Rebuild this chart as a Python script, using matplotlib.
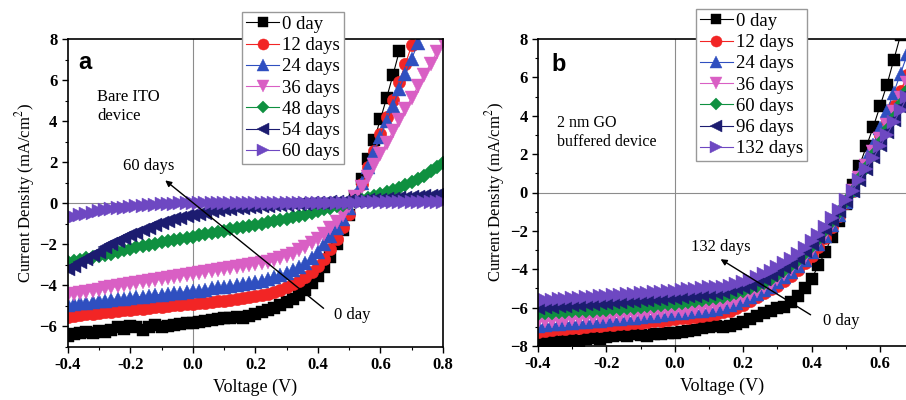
"""J-V curves of bare ITO and GO buffered devices over storage time."""

import matplotlib

matplotlib.use("Agg")
import matplotlib.pyplot as plt
from matplotlib.ticker import FormatStrFormatter, MultipleLocator

plt.rcParams["font.family"] = ["Liberation Serif", "DejaVu Serif"]
plt.rcParams["mathtext.fontset"] = "stix"

# voltage sweep (V), 0.02 V step
voltage = [
    -0.40, -0.38, -0.36, -0.34, -0.32, -0.30, -0.28, -0.26, -0.24, -0.22,
    -0.20, -0.18, -0.16, -0.14, -0.12, -0.10, -0.08, -0.06, -0.04, -0.02,
    0.00, 0.02, 0.04, 0.06, 0.08, 0.10, 0.12, 0.14, 0.16, 0.18,
    0.20, 0.22, 0.24, 0.26, 0.28, 0.30, 0.32, 0.34, 0.36, 0.38,
    0.40, 0.42, 0.44, 0.46, 0.48, 0.50, 0.52, 0.54, 0.56, 0.58,
    0.60, 0.62, 0.64, 0.66, 0.68, 0.70, 0.72, 0.74, 0.76, 0.78, 0.80,
]

# ---- panel a: bare ITO device (mA/cm^2) ----
labels_a = ["0 day", "12 days", "24 days", "36 days", "48 days", "54 days", "60 days"]

a_0 = [
    -6.45, -6.35, -6.30, -6.25, -6.30, -6.20, -6.25, -6.15, -6.05, -6.10,
    -6.00, -6.05, -6.15, -6.05, -5.95, -6.05, -6.00, -5.95, -5.90, -5.85,
    -5.85, -5.80, -5.75, -5.70, -5.65, -5.60, -5.60, -5.55, -5.60, -5.50,
    -5.40, -5.30, -5.20, -5.10, -4.95, -4.80, -4.65, -4.45, -4.20, -3.90,
    -3.55, -3.10, -2.60, -2.00, -1.30, -0.55, 0.30, 1.20, 2.15, 3.10,
    4.10, 5.15, 6.25, 7.40,
]
a_12 = [
    -5.55, -5.50, -5.45, -5.40, -5.40, -5.35, -5.30, -5.30, -5.25, -5.20,
    -5.20, -5.15, -5.15, -5.10, -5.05, -5.05, -5.00, -4.95, -4.95, -4.90,
    -4.90, -4.85, -4.85, -4.80, -4.75, -4.75, -4.70, -4.65, -4.60, -4.55,
    -4.50, -4.45, -4.40, -4.30, -4.20, -4.10, -3.95, -3.80, -3.60, -3.35,
    -3.05, -2.70, -2.25, -1.75, -1.15, -0.50, 0.20, 0.95, 1.75, 2.55,
    3.35, 4.20, 5.05, 5.90, 6.80, 7.70,
]
a_24 = [
    -4.95, -4.90, -4.85, -4.85, -4.80, -4.75, -4.75, -4.70, -4.65, -4.65,
    -4.60, -4.55, -4.55, -4.50, -4.45, -4.45, -4.40, -4.35, -4.35, -4.30,
    -4.25, -4.25, -4.20, -4.15, -4.10, -4.10, -4.05, -4.00, -3.95, -3.90,
    -3.85, -3.80, -3.70, -3.60, -3.50, -3.40, -3.25, -3.10, -2.90, -2.65,
    -2.35, -2.00, -1.60, -1.20, -0.75, -0.25, 0.35, 1.00, 1.75, 2.50,
    3.25, 4.00, 4.75, 5.55, 6.30, 7.05, 7.80,
]
a_36 = [
    -4.45, -4.40, -4.35, -4.30, -4.25, -4.20, -4.15, -4.10, -4.05, -4.00,
    -3.95, -3.90, -3.85, -3.80, -3.75, -3.70, -3.65, -3.60, -3.55, -3.50,
    -3.45, -3.40, -3.35, -3.30, -3.25, -3.20, -3.15, -3.10, -3.05, -3.00,
    -2.95, -2.90, -2.85, -2.75, -2.65, -2.55, -2.45, -2.30, -2.15, -1.95,
    -1.75, -1.50, -1.20, -0.90, -0.55, -0.15, 0.30, 0.80, 1.30, 1.85,
    2.40, 2.95, 3.50, 4.05, 4.60, 5.15, 5.70, 6.25, 6.80, 7.35, 7.90,
]
a_48 = [
    -2.85, -2.80, -2.75, -2.65, -2.60, -2.55, -2.50, -2.45, -2.35, -2.30,
    -2.25, -2.15, -2.10, -2.05, -2.00, -1.90, -1.85, -1.80, -1.75, -1.70,
    -1.65, -1.55, -1.50, -1.45, -1.40, -1.35, -1.25, -1.20, -1.15, -1.10,
    -1.05, -1.00, -0.90, -0.85, -0.80, -0.75, -0.65, -0.60, -0.55, -0.45,
    -0.40, -0.30, -0.25, -0.15, -0.10, 0.00, 0.10, 0.15, 0.25, 0.35,
    0.45, 0.55, 0.65, 0.75, 0.90, 1.05, 1.20, 1.35, 1.55, 1.75, 1.95,
]
a_54 = [
    -3.20, -3.05, -2.85, -2.70, -2.50, -2.35, -2.15, -2.00, -1.85, -1.70,
    -1.55, -1.45, -1.30, -1.20, -1.05, -0.95, -0.85, -0.75, -0.70, -0.60,
    -0.55, -0.50, -0.45, -0.40, -0.35, -0.30, -0.30, -0.25, -0.25, -0.20,
    -0.20, -0.15, -0.15, -0.10, -0.10, -0.10, -0.05, -0.05, -0.05, 0.00,
    0.00, 0.00, 0.05, 0.05, 0.05, 0.10, 0.10, 0.10, 0.15, 0.15,
    0.15, 0.20, 0.20, 0.25, 0.25, 0.30, 0.30, 0.35, 0.35, 0.40, 0.40,
]
a_60 = [
    -0.70, -0.65, -0.55, -0.50, -0.45, -0.40, -0.35, -0.30, -0.25, -0.25,
    -0.20, -0.15, -0.15, -0.10, -0.10, -0.05, -0.05, -0.05, 0.00, 0.00,
    0.00, 0.00, 0.00, 0.00, 0.00, 0.00, 0.00, 0.00, 0.00, 0.00,
    0.00, 0.00, 0.00, 0.00, 0.00, 0.00, 0.00, 0.00, 0.00, 0.00,
    0.00, 0.00, 0.00, 0.00, 0.00, 0.00, 0.00, 0.05, 0.05, 0.05,
    0.05, 0.05, 0.05, 0.05, 0.05, 0.05, 0.05, 0.05, 0.05, 0.05, 0.05,
]

# ---- panel b: 2 nm GO buffered device (mA/cm^2) ----
labels_b = ["0 day", "12 days", "24 days", "36 days", "60 days", "96 days", "132 days"]

b_0 = [
    -7.85, -7.80, -7.75, -7.80, -7.75, -7.70, -7.75, -7.65, -7.60, -7.65,
    -7.55, -7.50, -7.45, -7.50, -7.40, -7.45, -7.50, -7.40, -7.35, -7.30,
    -7.30, -7.25, -7.20, -7.15, -7.05, -7.00, -6.95, -7.00, -6.95, -6.85,
    -6.75, -6.60, -6.45, -6.30, -6.15, -6.00, -5.95, -5.70, -5.40, -5.00,
    -4.50, -3.80, -3.10, -2.30, -1.50, -0.60, 0.40, 1.40, 2.40, 3.40,
    4.50, 5.60, 6.90, 8.20,
]
b_12 = [
    -7.25, -7.20, -7.15, -7.10, -7.10, -7.05, -7.05, -7.00, -6.95, -6.95,
    -6.90, -6.90, -6.85, -6.85, -6.80, -6.80, -6.75, -6.70, -6.70, -6.65,
    -6.60, -6.55, -6.55, -6.50, -6.45, -6.40, -6.35, -6.25, -6.15, -6.00,
    -5.85, -5.65, -5.45, -5.25, -5.05, -4.85, -4.60, -4.35, -4.05, -3.70,
    -3.30, -2.85, -2.35, -1.80, -1.20, -0.55, 0.10, 0.80, 1.50, 2.25,
    3.00, 3.75, 4.50, 5.30, 6.10, 6.90,
]
b_24 = [
    -6.95, -6.90, -6.85, -6.85, -6.80, -6.80, -6.75, -6.75, -6.70, -6.70,
    -6.65, -6.60, -6.60, -6.55, -6.55, -6.50, -6.45, -6.45, -6.40, -6.35,
    -6.30, -6.30, -6.25, -6.20, -6.15, -6.10, -6.05, -5.95, -5.85, -5.75,
    -5.60, -5.45, -5.30, -5.10, -4.90, -4.65, -4.40, -4.15, -3.85, -3.50,
    -3.10, -2.70, -2.25, -1.70, -1.15, -0.50, 0.15, 0.90, 1.70, 2.50,
    3.35, 4.25, 5.20, 6.20, 7.20, 8.20,
]
b_36 = [
    -6.75, -6.70, -6.70, -6.65, -6.65, -6.60, -6.60, -6.55, -6.55, -6.50,
    -6.50, -6.45, -6.45, -6.40, -6.40, -6.35, -6.30, -6.30, -6.25, -6.20,
    -6.15, -6.15, -6.10, -6.05, -6.00, -5.95, -5.90, -5.80, -5.70, -5.60,
    -5.45, -5.30, -5.15, -4.95, -4.75, -4.50, -4.25, -4.00, -3.70, -3.35,
    -3.00, -2.60, -2.15, -1.65, -1.10, -0.50, 0.10, 0.75, 1.40, 2.10,
    2.80, 3.50, 4.20, 4.95, 5.70, 6.45,
]
b_60 = [
    -6.35, -6.30, -6.30, -6.25, -6.25, -6.20, -6.20, -6.15, -6.15, -6.10,
    -6.10, -6.05, -6.05, -6.00, -6.00, -5.95, -5.90, -5.90, -5.85, -5.80,
    -5.80, -5.75, -5.70, -5.65, -5.60, -5.55, -5.50, -5.45, -5.35, -5.25,
    -5.15, -5.00, -4.85, -4.70, -4.50, -4.30, -4.05, -3.80, -3.50, -3.15,
    -2.80, -2.40, -1.95, -1.50, -1.00, -0.45, 0.10, 0.70, 1.30, 1.95,
    2.60, 3.25, 3.90, 4.60, 5.30, 6.00,
]
b_96 = [
    -6.00, -5.95, -5.95, -5.90, -5.90, -5.85, -5.85, -5.80, -5.80, -5.75,
    -5.75, -5.70, -5.70, -5.65, -5.65, -5.60, -5.60, -5.55, -5.55, -5.50,
    -5.50, -5.45, -5.40, -5.40, -5.35, -5.30, -5.25, -5.20, -5.10, -5.00,
    -4.90, -4.80, -4.65, -4.50, -4.30, -4.10, -3.90, -3.65, -3.40, -3.05,
    -2.70, -2.30, -1.90, -1.45, -0.95, -0.45, 0.10, 0.65, 1.25, 1.85,
    2.50, 3.15, 3.80, 4.45, 5.15, 5.85,
]
b_132 = [
    -5.65, -5.60, -5.60, -5.55, -5.55, -5.50, -5.50, -5.45, -5.45, -5.40,
    -5.40, -5.35, -5.35, -5.30, -5.30, -5.25, -5.25, -5.20, -5.20, -5.15,
    -5.15, -5.10, -5.05, -5.05, -5.00, -4.95, -4.95, -4.90, -4.85, -4.75,
    -4.65, -4.55, -4.40, -4.25, -4.10, -3.90, -3.70, -3.45, -3.20, -2.90,
    -2.55, -2.20, -1.80, -1.35, -0.90, -0.40, 0.10, 0.65, 1.20, 1.80,
    2.40, 3.00, 3.65, 4.30, 5.00, 5.70,
]

series_a = [a_0, a_12, a_24, a_36, a_48, a_54, a_60]
series_b = [b_0, b_12, b_24, b_36, b_60, b_96, b_132]

colors = ["#000000", "#f22525", "#2f4fc0", "#d95fc4", "#0f9040", "#1c1c70", "#6e48c2"]
markers = ["s", "o", "^", "v", "D", "<", ">"]
sizes = [8, 9, 10, 10, 7, 10, 10]
legend_sizes = [7, 8, 9, 9, 6.5, 9, 9]


def draw_panel(ax, series, labels, xlim, ylim, legend_anchor, fig):
    ax.axhline(0, color="#8c8c8c", lw=0.8, zorder=0)
    ax.axvline(0, color="#8c8c8c", lw=0.8, zorder=0)
    for values, label, color, marker, size in zip(series, labels, colors, markers, sizes):
        ax.plot(voltage[:len(values)], values, color=color, marker=marker, ms=size,
                lw=0.8, mec=color, mew=0.3, label=label)
    ax.set_xlim(*xlim)
    ax.set_ylim(*ylim)
    ax.xaxis.set_major_locator(MultipleLocator(0.2))
    ax.xaxis.set_minor_locator(MultipleLocator(0.1))
    ax.yaxis.set_major_locator(MultipleLocator(2))
    ax.yaxis.set_minor_locator(MultipleLocator(1))
    ax.xaxis.set_major_formatter(FormatStrFormatter("%.1f"))
    ax.tick_params(which="major", direction="out", length=4, width=1, labelsize=12)
    ax.tick_params(which="minor", direction="out", length=2.5, width=0.8)
    for lab in ax.get_xticklabels() + ax.get_yticklabels():
        lab.set_fontweight("bold")
    for spine in ax.spines.values():
        spine.set_linewidth(1.2)
    ax.set_xlabel("Voltage (V)", fontsize=13, labelpad=4)
    ax.set_ylabel("Current Density (mA/cm$^2$)", fontsize=12, labelpad=2)
    leg = ax.legend(loc="upper left", bbox_to_anchor=legend_anchor, bbox_transform=fig.transFigure,
                    fontsize=13.5, frameon=True, fancybox=False, edgecolor="#999999",
                    framealpha=1, borderaxespad=0, borderpad=0.2, labelspacing=0.22,
                    handlelength=1.8, handletextpad=0.15)
    leg.get_frame().set_linewidth(1.0)
    for handle, size in zip(leg.legend_handles, legend_sizes):
        handle.set_markersize(size)
    leg.set_zorder(10)


fig = plt.figure(figsize=(9.06, 4.0), dpi=100)
ax_a = fig.add_axes([0.0747, 0.1325, 0.4143, 0.77])
ax_b = fig.add_axes([0.5938, 0.135, 0.4062, 0.7675])

draw_panel(ax_a, series_a, labels_a, (-0.4, 0.8), (-7, 8), (0.267, 0.97), fig)
# panel b is cut at the right edge of the picture
draw_panel(ax_b, series_b, labels_b, (-0.4, 0.676), (-8, 8), (0.768, 0.9775), fig)
ax_b.spines["right"].set_visible(False)

# panel a annotations
ax_a.text(-0.365, 6.55, "a", family="Liberation Sans", fontweight="bold", fontsize=17)
ax_a.text(-0.305, 5.55, "Bare ITO\ndevice", fontsize=12, va="top", linespacing=1.25)
ax_a.text(-0.14, 1.8, "60 days", fontsize=12, ha="center", va="center")
ax_a.text(0.45, -5.45, "0 day", fontsize=12, va="center")
ax_a.annotate("", xy=(-0.095, 1.2), xytext=(0.425, -5.2),
              arrowprops=dict(arrowstyle="-|>", color="black", lw=1, mutation_scale=9))

# panel b annotations
ax_b.text(-0.36, 6.35, "b", family="Liberation Sans", fontweight="bold", fontsize=17)
ax_b.text(-0.345, 4.05, "2 nm GO\nbuffered device", fontsize=11.5, va="top", linespacing=1.3)
ax_b.text(0.135, -2.85, "132 days", fontsize=12, ha="center", va="center")
ax_b.text(0.434, -6.7, "0 day", fontsize=12, va="center")
ax_b.annotate("", xy=(0.127, -3.4), xytext=(0.404, -6.45),
              arrowprops=dict(arrowstyle="-|>", color="black", lw=1, mutation_scale=9))

fig.savefig("out.png", dpi=100)
